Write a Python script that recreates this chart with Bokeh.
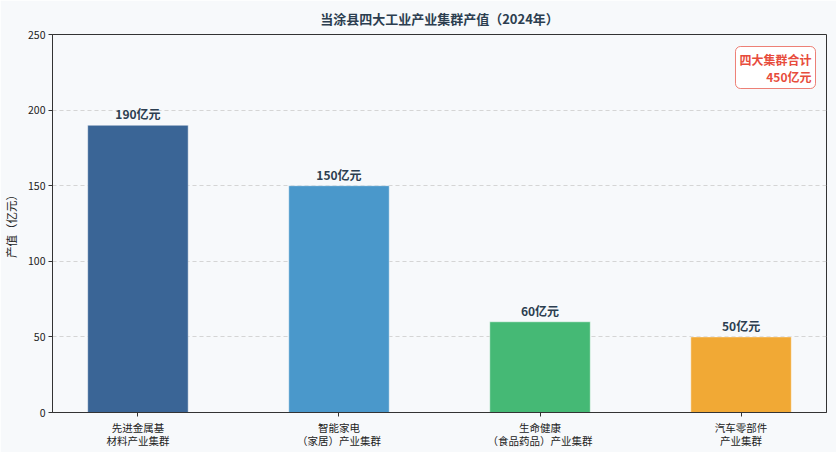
from bokeh.plotting import figure
from bokeh.models import ColumnDataSource, Label, FixedTicker, Range1d, LabelSet
from bokeh.core.properties import value
from bokeh.embed import file_html
from bokeh.resources import INLINE

categories = ["先进金属基\n材料产业集群", "智能家电\n（家居）产业集群", "生命健康\n（食品药品）产业集群", "汽车零部件\n产业集群"]
values = [190, 150, 60, 50]
colors = ["#3a6596", "#4a98cb", "#45b975", "#f1a935"]
value_labels = [f"{v}亿元" for v in values]
y_ticks = [0, 50, 100, 150, 200, 250]
total = sum(values)

FONT = "Noto Sans CJK SC"
xs = list(range(len(categories)))
src = ColumnDataSource(dict(x=xs, top=values, color=colors, label=value_labels))

p = figure(width=836, height=452, output_backend="svg", toolbar_location=None,
           x_range=Range1d(-0.425, 3.425), y_range=Range1d(0, 250),
           min_border_left=50, min_border_right=10, min_border_top=34, min_border_bottom=40)
p.background_fill_color = "#f7f9fb"
p.border_fill_color = "#f7f9fb"
p.outline_line_color = "#333333"
p.outline_line_width = 1

p.title.text = "当涂县四大工业产业集群产值（2024年）"
p.title.text_font = FONT
p.title.text_font_size = "13px"
p.title.text_font_style = "bold"
p.title.text_color = "#2c3e50"
p.title.align = "center"
p.title.offset = 5
p.title.standoff = 13
p.title.text_line_height = 0.8

p.vbar(x="x", top="top", width=0.5, bottom=0, color="color", line_color="white", line_width=0.5, source=src)

labels = LabelSet(x="x", y="top", text="label", source=src, text_align="center", text_baseline="bottom",
                  y_offset=3, text_font=value(FONT), text_font_size="12px", text_font_style="bold",
                  text_color="#2c3e50")
p.add_layout(labels)

p.xaxis.ticker = FixedTicker(ticks=xs)
p.xaxis.major_label_overrides = {i: c for i, c in enumerate(categories)}
p.yaxis.ticker = FixedTicker(ticks=y_ticks)
for ax in (p.xaxis[0], p.yaxis[0]):
    ax.major_label_text_font = FONT
    ax.major_label_text_font_size = "10.5px"
    ax.major_label_text_color = "#222222"
    ax.axis_line_color = "#333333"
    ax.major_tick_line_color = "#333333"
    ax.major_tick_out = 4
    ax.major_tick_in = 0
    ax.minor_tick_line_color = None
    ax.major_label_standoff = 3
p.xaxis.major_label_text_line_height = 0.92
p.yaxis.axis_label = "产值（亿元）"
p.yaxis.axis_label_text_font = FONT
p.yaxis.axis_label_text_font_size = "11.5px"
p.yaxis.axis_label_text_font_style = "normal"
p.yaxis.axis_label_text_color = "#222222"
p.yaxis.axis_label_standoff = 6

p.xgrid.grid_line_color = None
p.ygrid.grid_line_color = "#cccccc"
p.ygrid.grid_line_dash = "4 3"
p.ygrid.grid_line_alpha = 0.8

ann = Label(x=763, y=366, x_units="screen", y_units="screen", text=f"四大集群合计\n{total}亿元",
            text_align="right", text_baseline="top", text_font=FONT, text_font_size="12px",
            text_font_style="bold", text_color="#e74c3c", text_line_height=1.0,
            background_fill_color="white", background_fill_alpha=0.9,
            border_line_color="#e74c3c", border_line_alpha=0.7, border_line_width=1,
            padding=4, border_radius=5)
p.add_layout(ann)

open("out.html", "w").write(file_html(p, INLINE))
